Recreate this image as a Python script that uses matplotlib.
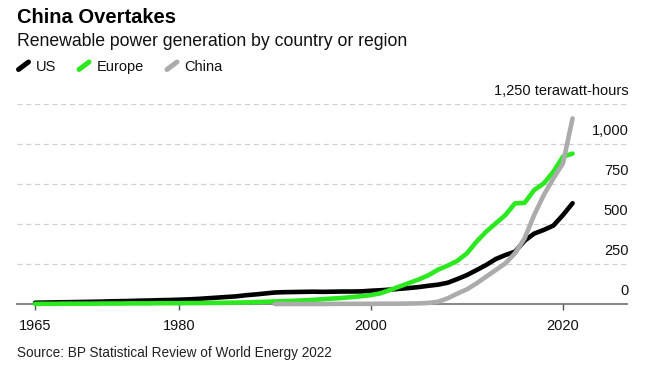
import matplotlib
matplotlib.use("Agg")
import matplotlib.pyplot as plt
from matplotlib.lines import Line2D

# ---------------------------------------------------------------- data (TWh)
us_years = list(range(1965, 2022))
us_twh = [8, 9, 10, 11, 12, 13, 14, 15, 17, 18,
          19, 21, 22, 24, 25, 27, 29, 32, 36, 40,
          44, 48, 55, 60, 66, 72, 74, 75, 76, 77,
          76, 77, 78, 78, 79, 83, 86, 90, 95, 100,
          106, 114, 121, 133, 156, 181, 212, 244, 281, 306,
          327, 395, 440, 463, 490, 556, 630]

eu_years = list(range(1965, 2022))
eu_twh = [1, 1, 1, 2, 2, 2, 2, 3, 3, 3,
          4, 4, 4, 5, 5, 5, 6, 6, 7, 7,
          8, 9, 10, 12, 14, 16, 18, 20, 23, 26,
          30, 34, 38, 43, 49, 56, 67, 88, 110, 132,
          154, 180, 215, 240, 270, 317, 390, 452, 504, 556,
          629, 632, 712, 754, 827, 921, 940]

cn_years = list(range(1990, 2022))
cn_twh = [0, 0, 0, 0, 0, 0, 1, 1, 1, 1,
          1, 2, 2, 2, 3, 4, 7, 14, 36, 65,
          92, 129, 171, 212, 254, 317, 410, 556, 681, 785,
          879, 1160]

series_names = ["US", "Europe", "China"]
x_ticks = [1965, 1980, 2000, 2020]
y_grid = [0, 250, 500, 750, 1000, 1250]
y_labels = ["0", "250", "500", "750", "1,000", "1,250 terawatt-hours"]

# ---------------------------------------------------------------- style
BLACK = "#000000"
GREEN = "#2be81f"
GRAY = "#ababab"
GRID = "#d0d0d0"
AXIS = "#8a8a8a"
FONT = ["Liberation Sans", "Arial", "DejaVu Sans"]

plt.rcParams["font.family"] = FONT

W, H = 655, 371
fig = plt.figure(figsize=(W / 100, H / 100), dpi=100)
fig.patch.set_facecolor("white")


def fx(px):
    return px / W


def fy(py):
    return 1 - py / H


# plot area: x from 17 to 627 px, 0 at y=304, 1250 at y=104
ax = fig.add_axes([fx(17), fy(304), fx(627) - fx(17), (304 - 104) / H])
ax.set_xlim(1963.125, 2026.67)
ax.set_ylim(0, 1250)
ax.set_facecolor("none")

for s in ("top", "right", "left"):
    ax.spines[s].set_visible(False)
ax.spines["bottom"].set_color(AXIS)
ax.spines["bottom"].set_linewidth(1.5)
ax.spines["bottom"].set_zorder(1)

# dashed gridlines
for v in y_grid[1:]:
    ax.axhline(v, color=GRID, linewidth=0.9, linestyle=(0, (4, 3)), zorder=0)

lw = 3.3
ax.plot(us_years, us_twh, color=BLACK, linewidth=lw, solid_capstyle="round",
        solid_joinstyle="round", clip_on=False, zorder=3)
ax.plot(eu_years, eu_twh, color=GREEN, linewidth=lw, solid_capstyle="round",
        solid_joinstyle="round", clip_on=False, zorder=4)
ax.plot(cn_years, cn_twh, color=GRAY, linewidth=lw, solid_capstyle="round",
        solid_joinstyle="round", clip_on=False, zorder=5)

ax.set_xticks(x_ticks)
ax.set_xticklabels([str(t) for t in x_ticks], fontsize=10.5, color="#111111")
ax.tick_params(axis="x", length=4.5, width=1, color="#555555", pad=6)
ax.set_yticks([])

# right-aligned value labels sitting above each gridline
for v, lab in zip(y_grid, y_labels):
    ax.annotate(lab, xy=(1.0, v), xycoords=("axes fraction", "data"),
                xytext=(1, 6.5), textcoords="offset points",
                ha="right", va="baseline", fontsize=10.5, color="#111111")

# ---------------------------------------------------------------- header
fig.text(fx(17), fy(23.3), "China Overtakes", fontsize=14.5, fontweight="bold",
         ha="left", va="baseline", color="#000000")
fig.text(fx(17), fy(46.5), "Renewable power generation by country or region",
         fontsize=12.7, ha="left", va="baseline", color="#111111")

legend_colors = [BLACK, GREEN, GRAY]
legend_x = [17.5, 78, 166]
for name, col, x0 in zip(series_names, legend_colors, legend_x):
    fig.add_artist(Line2D([fx(x0 + 1), fx(x0 + 11)], [fy(69.5), fy(62)],
                          color=col, linewidth=3.6, solid_capstyle="round",
                          transform=fig.transFigure))
    fig.text(fx(x0 + 18.5), fy(70.7), name, fontsize=10.5, ha="left",
             va="baseline", color="#111111")

fig.text(fx(17), fy(357), "Source: BP Statistical Review of World Energy 2022",
         fontsize=9.8, ha="left", va="baseline", color="#222222")

fig.savefig("out.png", dpi=100)
